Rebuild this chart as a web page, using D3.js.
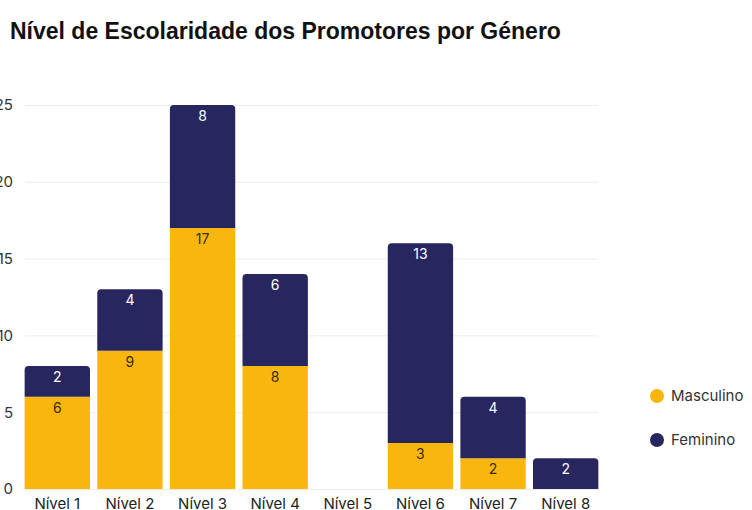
<!DOCTYPE html>
<html>
<head>
<meta charset="utf-8">
<script src="https://cdn.jsdelivr.net/npm/d3@7"></script>
<style>
  html, body { margin: 0; padding: 0; background: #fff; }
  svg { display: block; }
</style>
</head>
<body>
<svg id="chart" width="752" height="510"></svg>
<script>
const categories = ["Nível 1", "Nível 2", "Nível 3", "Nível 4", "Nível 5", "Nível 6", "Nível 7", "Nível 8"];
const masculino = [6, 9, 17, 8, 0, 3, 2, 0];
const feminino  = [2, 4, 8, 6, 0, 13, 4, 2];
const seriesNames = ["Masculino", "Feminino"];
const yTicks = [0, 5, 10, 15, 20, 25];

const colors = { Masculino: "#F9B60F", Feminino: "#28265F" };
const labelColors = { Masculino: "#3a2a10", Feminino: "#ffffff" };
const font = "Inter, 'Noto Sans', sans-serif";

const svg = d3.select("#chart");

const x = d3.scaleBand().domain(categories).range([21, 602]).paddingInner(0.1).paddingOuter(0.05);
const y = d3.scaleLinear().domain([0, 25]).range([489, 105]);

// title
svg.append("text")
  .attr("x", 10).attr("y", 39)
  .attr("font-family", "'Liberation Sans', Arial, sans-serif")
  .attr("font-weight", "bold")
  .attr("font-size", 23)
  .attr("fill", "#111")
  .text("Nível de Escolaridade dos Promotores por Género");

// gridlines + y labels
const yAxis = d3.axisLeft(y).tickValues(yTicks).tickSize(-(598 - 25)).tickPadding(12);
const yg = svg.append("g").attr("transform", "translate(25,0)").call(yAxis);
yg.select(".domain").remove();
yg.selectAll(".tick line").attr("stroke", "#ececec").attr("stroke-width", 1);
yg.selectAll(".tick text")
  .attr("font-family", font).attr("font-size", 15).attr("fill", "#333");

// x labels
const xAxis = d3.axisBottom(x).tickSize(0).tickPadding(9);
const xg = svg.append("g").attr("transform", "translate(0,489)").call(xAxis);
xg.select(".domain").remove();
xg.selectAll(".tick text")
  .attr("font-family", font).attr("font-size", 15).attr("fill", "#222");

// stacked bars
const rows = categories.map((c, i) => ({ cat: c, Masculino: masculino[i], Feminino: feminino[i] }));
const stack = d3.stack().keys(seriesNames)(rows);

function segPath(x0, w, yTop, yBot, r) {
  const h = yBot - yTop;
  r = Math.min(r, h, w / 2);
  return `M${x0},${yBot}V${yTop + r}Q${x0},${yTop} ${x0 + r},${yTop}H${x0 + w - r}Q${x0 + w},${yTop} ${x0 + w},${yTop + r}V${yBot}Z`;
}

const barG = svg.append("g");
stack.forEach(layer => {
  const key = layer.key;
  layer.forEach((d, i) => {
    const v = d[1] - d[0];
    if (v <= 0) return;
    const isTop = seriesNames.slice(seriesNames.indexOf(key) + 1).every(k => rows[i][k] === 0);
    const x0 = x(categories[i]);
    const w = x.bandwidth();
    const yTop = y(d[1]), yBot = y(d[0]);
    barG.append("path")
      .attr("d", segPath(x0, w, yTop, yBot, isTop ? 4 : 0))
      .attr("fill", colors[key]);
    barG.append("text")
      .attr("x", x0 + w / 2)
      .attr("y", yTop + 16)
      .attr("text-anchor", "middle")
      .attr("font-family", font).attr("font-size", 14)
      .attr("fill", labelColors[key])
      .text(v);
  });
});

// legend
const legend = svg.append("g");
seriesNames.forEach((name, i) => {
  const cy = 396 + i * 44;
  legend.append("circle").attr("cx", 657).attr("cy", cy).attr("r", 7).attr("fill", colors[name]);
  legend.append("text").attr("x", 671).attr("y", cy + 5)
    .attr("font-family", font).attr("font-size", 15).attr("fill", "#333")
    .text(name);
});
</script>
</body>
</html>
